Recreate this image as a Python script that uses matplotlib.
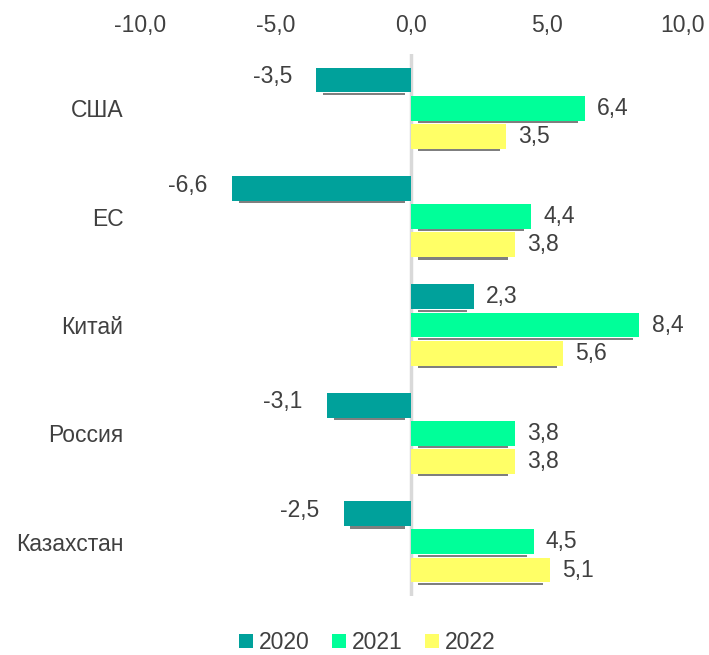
import numpy as np
import matplotlib.pyplot as plt

plt.rcParams['font.family'] = ['Liberation Sans', 'DejaVu Sans']

# данные
countries = ["США", "ЕС", "Китай", "Россия", "Казахстан"]
years = ["2020", "2021", "2022"]
v2020 = [-3.5, -6.6, 2.3, -3.1, -2.5]
v2021 = [6.4, 4.4, 8.4, 3.8, 4.5]
v2022 = [3.5, 3.8, 5.6, 3.8, 5.1]
colors = ["#00A19B", "#00FF99", "#FFFF66"]

txt = "#404040"
fs = 16.5

fig = plt.figure(figsize=(7.09, 6.55), dpi=100)
ax = fig.add_axes([0.1975, 0.09, 0.7655, 0.8276])

y = np.arange(len(countries))
h = 0.23
step = 0.26
series = [v2020, v2021, v2022]

for i, (vals, c, yr) in enumerate(zip(series, colors, years)):
    pos = y + (i - 1) * step
    vals = np.array(vals)
    # тень под столбцом
    inset = 0.25
    sh_left = np.where(vals > 0, inset, vals + inset)
    sh_w = np.abs(vals) - 2 * inset
    ax.barh(pos + h / 2 + 0.012, sh_w, left=sh_left, height=0.02,
            color="#7f7f7f", zorder=2)
    ax.barh(pos, vals, height=h, color=c, label=yr, zorder=3)
    for p, v in zip(pos, vals):
        s = f"{v:.1f}".replace(".", ",")
        if v >= 0:
            ax.text(v + 0.45, p, s, ha="left", va="center", fontsize=fs, color=txt)
        else:
            ax.text(v - 0.9, p - 0.03, s, ha="right", va="center", fontsize=fs, color=txt)

ax.axvline(0, color="#d9d9d9", lw=2.5, zorder=1)
ax.set_xlim(-10, 10)
ax.set_ylim(4.5, -0.5)
ax.set_xticks([-10, -5, 0, 5, 10])
ax.set_xticklabels([f"{t:.1f}".replace(".", ",") for t in [-10, -5, 0, 5, 10]])
ax.xaxis.tick_top()
ax.set_yticks(y)
ax.set_yticklabels(countries)
ax.tick_params(axis="both", length=0, labelsize=fs, labelcolor=txt)
ax.tick_params(axis="x", pad=12)
ax.tick_params(axis="y", pad=12)
for s in ax.spines.values():
    s.set_visible(False)

fig.legend(loc="lower center", ncol=3, frameon=False, fontsize=fs,
           handlelength=0.6, handleheight=0.6, handletextpad=0.25,
           columnspacing=1.0, bbox_to_anchor=(0.518, -0.03), labelcolor=txt)

fig.savefig("out.png", dpi=100)
